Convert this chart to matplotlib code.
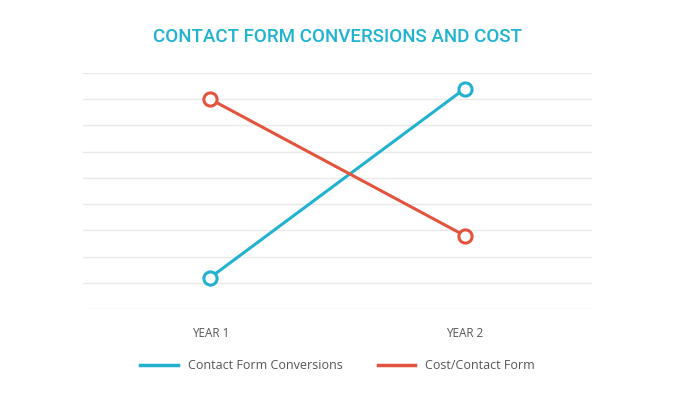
import matplotlib.pyplot as plt
from matplotlib.lines import Line2D

# Data (gridline units)
years = ["YEAR 1", "YEAR 2"]
conversions = [1.2, 8.4]
cost_per_form = [8.0, 2.8]

blue = "#22b2d0"
red = "#e4533e"

fig = plt.figure(figsize=(6.75, 3.93), dpi=100)
ax = fig.add_axes([0.123, 0.2137, 0.754, 0.6006])

x = range(len(years))
ax.plot(x, conversions, color=blue, lw=2.2, marker="o", ms=9.5,
        mfc="white", mec=blue, mew=2.2, zorder=3)
ax.plot(x, cost_per_form, color=red, lw=2.2, marker="o", ms=9.5,
        mfc="white", mec=red, mew=2.2, zorder=3)

ax.set_xlim(-0.5, 1.5)
ax.set_ylim(0, 9)
ax.set_yticks(range(10))
ax.set_yticklabels([])
ax.set_xticks(list(x))
ax.set_xticklabels(years, color="#555555", fontsize=8.5, family="Open Sans")
ax.tick_params(axis="x", length=0, pad=13)
ax.tick_params(axis="y", length=0)
ax.grid(axis="y", color="#e9e9e9", lw=1)
for s in ax.spines.values():
    s.set_visible(False)

fig.text(0.5, 0.905, "CONTACT FORM CONVERSIONS AND COST", ha="center", va="center",
         color="#1fb3d2", fontsize=13.5, family="Roboto", weight="medium")

handles = [Line2D([0], [0], color=blue, lw=2.5),
           Line2D([0], [0], color=red, lw=2.5)]
fig.legend(handles, ["Contact Form Conversions", "Cost/Contact Form"],
           loc="center", bbox_to_anchor=(0.5, 0.07), ncol=2, frameon=False,
           handlelength=3.0, columnspacing=2.8, handletextpad=0.8,
           prop={"family": "Open Sans", "size": 9}, labelcolor="#555555")

fig.savefig("out.png", dpi=100)
